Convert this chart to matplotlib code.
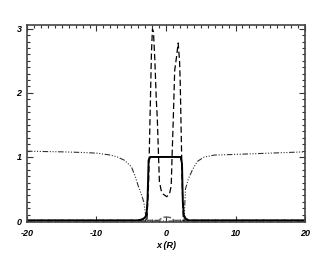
import matplotlib
matplotlib.use("Agg")
import matplotlib.pyplot as plt
from matplotlib.ticker import MultipleLocator
import numpy as np

# --------------------------------------------------
# data
# --------------------------------------------------
x_solid = [-20, -4.0, -3.3, -3.0, -2.8, -2.65, -2.5, -2.25, 2.1, 2.3, 2.42, 2.55, 2.8, 3.2, 20]
y_solid = [0.01, 0.01, 0.03, 0.06, 0.1, 0.35, 0.95, 1.0, 1.0, 0.9, 0.3, 0.1, 0.04, 0.01, 0.01]

x_dash = [-20, -2.75, -2.5, -2.3, -2.1, -1.95, -1.8, -1.6, -1.4, -1.25, -1.1, -0.95,
          -0.7, -0.4, 0.1, 0.5, 0.75, 0.9, 1.05, 1.25, 1.5, 1.75, 1.95, 2.05, 2.2,
          2.35, 2.5, 20]
y_dash = [0.0, 0.0, 0.6, 1.6, 2.6, 3.0, 2.95, 2.5, 1.9, 1.6, 1.1, 0.62,
          0.48, 0.42, 0.38, 0.42, 0.55, 1.1, 1.6, 2.35, 2.55, 2.78, 2.5, 2.15, 1.3,
          0.5, 0.0, 0.0]

x_dd = [-20, -15, -12, -10, -8, -7, -6, -5, -4.5, -4, -3.5, -3.2, -3.0, -2.8,
        2.6, 2.8, 3.2, 3.8, 4.5, 5.5, 7, 10, 15, 20]
y_dd = [1.09, 1.08, 1.07, 1.06, 1.03, 1.0, 0.95, 0.85, 0.72, 0.55, 0.4, 0.3, 0.15, 0.0,
        0.0, 0.5, 0.65, 0.8, 0.93, 1.0, 1.03, 1.04, 1.06, 1.08]

x_low = [-20, -4.0, -3.5, -3.2, -2.9, -2.6, -1.0, -0.7, -0.3, 0.3, 0.8, 1.1, 2.6, 3.0, 3.4, 20]
y_low = [0.01, 0.01, 0.02, 0.05, 0.03, 0.01, 0.01, 0.04, 0.06, 0.06, 0.05, 0.01, 0.01, 0.03, 0.01, 0.01]

xticks = [-20, -10, 0, 10, 20]
yticks = [0, 1, 2, 3]

# --------------------------------------------------
# figure
# --------------------------------------------------
fig = plt.figure(figsize=(3.32, 2.62), dpi=100)
ax = fig.add_axes([0.0813, 0.1527, 0.8374, 0.7519])

ax.plot(x_low, y_low, color="#666666", lw=1.1, dashes=(5, 1.5))
ax.plot(x_dd, y_dd, color="#333333", lw=0.8, dashes=(5, 1.5, 1, 1.5, 1, 1.5, 1, 1.5))
ax.plot(x_dash, y_dash, color="black", lw=0.9, dashes=(5, 2.5))
ax.plot(x_solid, y_solid, color="black", lw=1.4)

ax.set_xlim(-20, 20)
ax.set_ylim(-0.015, 3.06)
ax.set_xticks(xticks)
ax.set_yticks(yticks)
ax.xaxis.set_minor_locator(MultipleLocator(1))
ax.yaxis.set_minor_locator(MultipleLocator(0.1))

ax.tick_params(which="both", direction="in", top=True, right=True, color="#333333")
ax.tick_params(which="major", length=4, width=0.8)
ax.tick_params(which="minor", length=2, width=0.8)
ax.tick_params(axis="x", pad=5)
ax.tick_params(axis="y", pad=4)

font = dict(family="Liberation Sans", style="italic", weight="bold", size=6.5)
ax.set_xticklabels([str(t) for t in xticks], **font)
ax.set_yticklabels([str(t) for t in yticks], **font)
ax.set_xlabel("x (R)", labelpad=2, **font)

for s in ax.spines.values():
    s.set_linewidth(1.2)
    s.set_color("#444444")

fig.savefig("out.png", dpi=100)
